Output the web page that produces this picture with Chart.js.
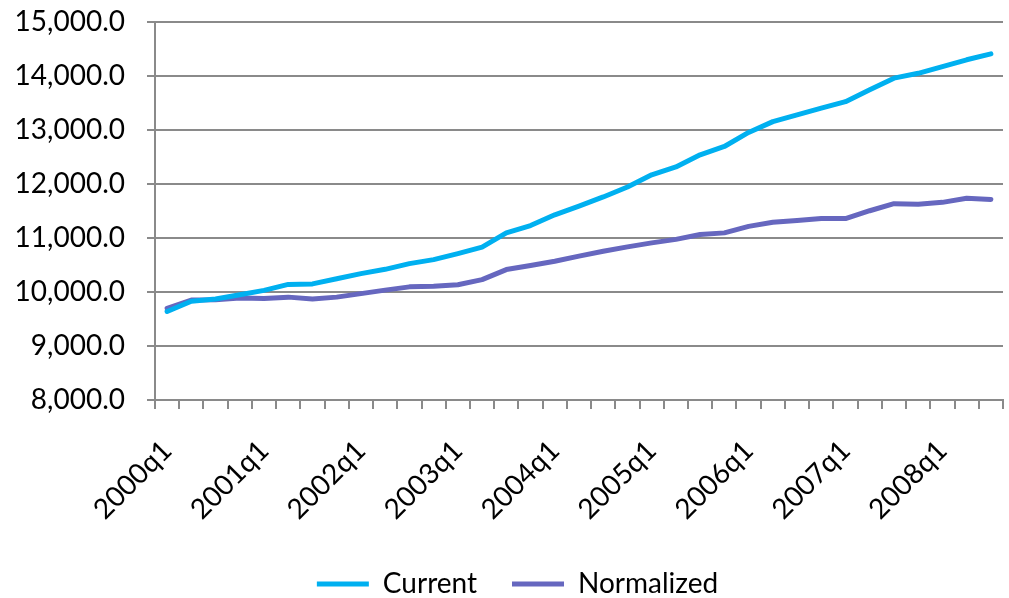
<!DOCTYPE html>
<html>
<head>
<meta charset="utf-8">
<script src="https://cdn.jsdelivr.net/npm/chart.js@4/dist/chart.umd.min.js"></script>
<style>
  html, body { margin: 0; padding: 0; background: #ffffff; }
  #wrap { width: 1009px; height: 598px; }
</style>
</head>
<body>
<div id="wrap"><canvas id="c" width="1009" height="598"></canvas></div>
<script>
// Quarterly periods on the category axis
const quarters = [
  '2000q1','2000q2','2000q3','2000q4',
  '2001q1','2001q2','2001q3','2001q4',
  '2002q1','2002q2','2002q3','2002q4',
  '2003q1','2003q2','2003q3','2003q4',
  '2004q1','2004q2','2004q3','2004q4',
  '2005q1','2005q2','2005q3','2005q4',
  '2006q1','2006q2','2006q3','2006q4',
  '2007q1','2007q2','2007q3','2007q4',
  '2008q1','2008q2','2008q3'
];

// Series values
const current = [
  9640, 9830, 9870, 9950, 10030, 10140, 10150, 10245,
  10340, 10420, 10525, 10600, 10710, 10830, 11095, 11230,
  11430, 11590, 11760, 11945, 12170, 12315, 12540, 12695,
  12955, 13155, 13280, 13405, 13525, 13745, 13960, 14050,
  14175, 14300, 14410
];
const normalized = [
  9695, 9850, 9855, 9890, 9880, 9905, 9870, 9905,
  9970, 10035, 10095, 10105, 10135, 10230, 10415, 10490,
  10570, 10665, 10755, 10835, 10910, 10975, 11065, 11095,
  11215, 11290, 11325, 11360, 11360, 11505, 11635, 11625,
  11660, 11735, 11715
];

// Value axis range
const yMin = 8000;
const yMax = 15000;
const yStep = 1000;

const FONT = 'Lato, "Liberation Sans", sans-serif';
const FONT_SIZE = 28;
const GRID = '#8a8a8a';

// Nudge the bottom legend a little to the right of the canvas centre
const legendShift = {
  id: 'legendShift',
  afterLayout(chart) {
    const lg = chart.legend;
    if (lg) { lg.left += 16; lg.right += 16; }
  }
};

new Chart(document.getElementById('c'), {
  type: 'line',
  plugins: [legendShift],
  data: {
    labels: quarters,
    datasets: [
      {
        label: 'Current',
        data: current,
        borderColor: '#00b0f0',
        backgroundColor: '#00b0f0',
        borderWidth: 5,
        pointRadius: 0,
        tension: 0,
        borderCapStyle: 'round',
        borderJoinStyle: 'round'
      },
      {
        label: 'Normalized',
        data: normalized,
        borderColor: '#6667bf',
        backgroundColor: '#6667bf',
        borderWidth: 5,
        pointRadius: 0,
        tension: 0,
        borderCapStyle: 'round',
        borderJoinStyle: 'round'
      }
    ]
  },
  options: {
    responsive: false,
    animation: false,
    devicePixelRatio: 1,
    layout: { padding: { top: 22, right: 6, left: 0, bottom: -10 } },
    plugins: {
      tooltip: { enabled: false },
      legend: {
        position: 'bottom',
        labels: {
          color: '#000000',
          font: { family: FONT, size: FONT_SIZE },
          boxWidth: 52,
          boxHeight: 5,
          padding: 35,
          generateLabels(chart) {
            return chart.data.datasets.map((ds, i) => ({
              text: ds.label,
              fillStyle: ds.borderColor,
              strokeStyle: ds.borderColor,
              lineWidth: 0,
              datasetIndex: i,
              fontColor: '#000000'
            }));
          }
        }
      }
    },
    scales: {
      x: {
        type: 'category',
        offset: true,
        grid: {
          offset: true,
          drawOnChartArea: false,
          drawTicks: true,
          tickLength: 9,
          color: GRID,
          lineWidth: 2
        },
        border: { color: GRID, width: 2 },
        ticks: {
          autoSkip: false,
          maxRotation: 45,
          minRotation: 45,
          padding: 25,
          color: '#000000',
          font: { family: FONT, size: FONT_SIZE },
          callback(value, index) {
            return index % 4 === 0 ? quarters[index] : '';
          }
        },
        afterFit(scale) {
          scale.height = 135;
          scale.paddingLeft = 0;
          scale.paddingRight = 0;
        }
      },
      y: {
        min: yMin,
        max: yMax,
        grid: {
          color: GRID,
          lineWidth: 2,
          drawTicks: true,
          tickLength: 8
        },
        border: { color: GRID, width: 2 },
        ticks: {
          stepSize: yStep,
          padding: 22,
          color: '#000000',
          font: { family: FONT, size: FONT_SIZE },
          callback(v) {
            return Number(v).toLocaleString('en-US', { minimumFractionDigits: 1, maximumFractionDigits: 1 });
          }
        },
        afterFit(scale) {
          scale.width = 155;
          scale.paddingTop = 0;
          scale.paddingBottom = 0;
        }
      }
    }
  }
});
</script>
</body>
</html>
